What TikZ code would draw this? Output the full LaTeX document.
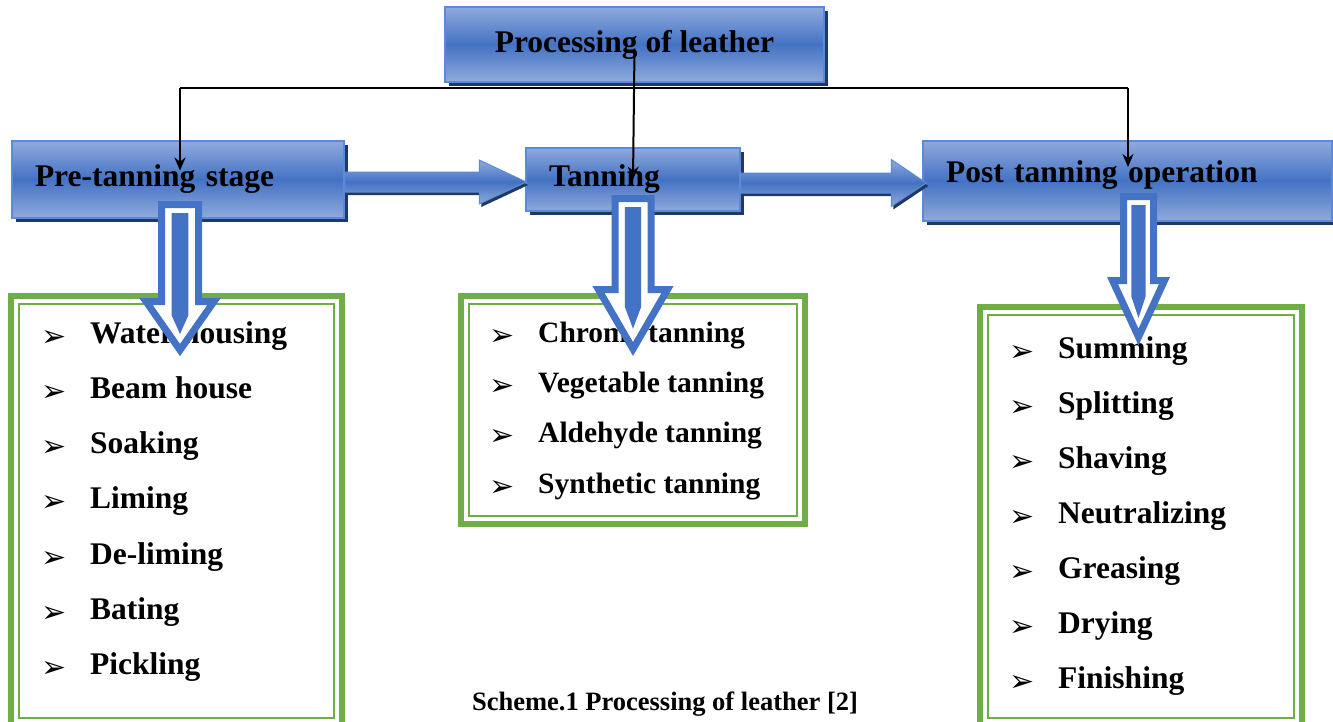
\documentclass[tikz,border=0pt]{standalone}
\usepackage{fontspec}
\setmainfont{Liberation Serif}
\newfontfamily\symfont{DejaVu Sans}
\usepackage{tikz}
\usetikzlibrary{calc, shadows, arrows.meta}

\definecolor{boxblue}{HTML}{4472C4}
\definecolor{boxlight}{HTML}{8FAADC}
\definecolor{boxedge}{HTML}{5B8BD8}
\definecolor{shadowblue}{HTML}{203864}
\definecolor{framegreen}{HTML}{70AD47}

\newcommand{\headfont}{\bfseries\fontsize{31.5}{36}\selectfont}
\newcommand{\listfont}{\bfseries\fontsize{31.5}{36}\selectfont}
\newcommand{\midfont}{\bfseries\fontsize{29.5}{34}\selectfont}
\newcommand{\capfont}{\bfseries\fontsize{26.5}{30}\selectfont}
\newcommand{\bulletfont}{\symfont\fontsize{30}{30}\selectfont}

% hollow down arrow: x, top, head base, tip, shaft half width, head half width
\newcommand{\hollowarrow}[6]{%
  \draw[hollow] ({#1-#5+3.5},{#2+3.5}) -- ({#1-#5+3.5},{#3+3.5}) -- ({#1-#6+5},{#3+3.5})
    -- ({#1},{#4-6}) -- ({#1+#6-5},{#3+3.5}) -- ({#1+#5-3.5},{#3+3.5}) -- ({#1+#5-3.5},{#2+3.5}) -- cycle;
  \fill[boxblue] ({#1-0.38*#5},{#2+12}) -- ({#1-0.38*#5},{#3+0.3*(#4-#3)}) -- ({#1},{#3+0.62*(#4-#3)})
    -- ({#1+0.38*#5},{#3+0.3*(#4-#3)}) -- ({#1+0.38*#5},{#2+12}) -- cycle;
}

\begin{document}
\begin{tikzpicture}[
    x=1pt, y=-1pt,
    stagebox/.style={draw=boxedge, line width=1.5pt, shading=axis, top color=boxlight,
        bottom color=boxlight, middle color=boxblue, inner sep=0pt, align=left, font=\headfont,
        drop shadow={shadow xshift=4pt, shadow yshift=-4pt, fill=shadowblue, opacity=1}},
    flowarrow/.style={draw=boxedge, line width=1pt, shading=axis, top color=boxlight,
        bottom color=boxlight, middle color=boxblue,
        drop shadow={shadow xshift=2pt, shadow yshift=-3pt, fill=shadowblue, opacity=1}},
    framebox/.style={draw=framegreen, fill=white, line width=6pt, inner sep=0pt,
        path picture={\draw[framegreen, line width=2pt]
            ([shift={(8pt,-8pt)}]path picture bounding box.north west) rectangle
            ([shift={(-8pt,8pt)}]path picture bounding box.south east);}},
    listitem/.style={inner sep=0pt, anchor=base west},
    hollow/.style={draw=boxblue, fill=white, line width=7pt, line join=miter},
    link/.style={draw=black, line width=2pt},
    tip/.style={-{Stealth[length=13pt, width=11pt]}}
]
\useasboundingbox (0,0) rectangle (1333,721);
\clip (0,0) rectangle (1333,721);

% --- stage boxes ---
\node[stagebox, minimum width=379pt, minimum height=75pt, align=center] (title) at (634.5,44.5) {Processing of leather};
\node[stagebox, minimum width=332pt, minimum height=77pt, text width=286pt] (pre) at (178,179.5) {Pre-tanning stage};
\node[stagebox, minimum width=214pt, minimum height=63pt, text width=168pt] (tan) at (633,179.5) {Tanning};
\node[stagebox, minimum width=409pt, minimum height=80pt, text width=363pt, text depth=19pt] (post) at (1127.5,181) {Post tanning operation};

% --- list frames ---
\node[framebox, minimum width=331pt, minimum height=430pt] (fpre) at (176.5,511) {};
\node[framebox, minimum width=344pt, minimum height=228pt] (ftan) at (633,410) {};
\node[framebox, minimum width=322pt, minimum height=419pt] (fpost) at (1141,516.5) {};

% --- list items ---
\foreach \txt [count=\i] in {Water housing, Beam house, Soaking, Liming, De-liming, Bating, Pickling} {
    \node[listitem, font=\bulletfont] (pb\i) at (41,{346+55.3*(\i-1)}) {➢};
    \node[listitem, font=\listfont] (p\i) at (90,{343+55.3*(\i-1)}) {\txt};
}
\foreach \txt [count=\i] in {Chrome tanning, Vegetable tanning, Aldehyde tanning, Synthetic tanning} {
    \node[listitem, font=\bulletfont] (tb\i) at (489,{345+50.4*(\i-1)}) {➢};
    \node[listitem, font=\midfont] (t\i) at (538,{342+50.4*(\i-1)}) {\txt};
}
\foreach \txt [count=\i] in {Summing, Splitting, Shaving, Neutralizing, Greasing, Drying, Finishing} {
    \node[listitem, font=\bulletfont] (ob\i) at (1009,{361+55*(\i-1)}) {➢};
    \node[listitem, font=\listfont] (o\i) at (1058,{358+55*(\i-1)}) {\txt};
}

\node[font=\capfont, anchor=base] (cap) at (665,710) {Scheme.1 Processing of leather [2]};

% --- flow arrows between stages ---
\path[flowarrow] let \p1=(pre.east), \p2=(tan.west) in
    (\x1,\y1+7.5pt) -- (\x2-46pt,\y1+7.5pt) -- (\x2-46pt,\y1+19.5pt) -- (\x2+1pt,\y1-2.5pt)
    -- (\x2-46pt,\y1-24.5pt) -- (\x2-46pt,\y1-12.5pt) -- (\x1,\y1-12.5pt) -- cycle;
\path[flowarrow] let \p1=(tan.east), \p2=(post.west) in
    (\x1,\y1+6.5pt) -- (\x2-31pt,\y1+6.5pt) -- (\x2-31pt,\y1+20pt) -- (\x2+4pt,\y1-3.5pt)
    -- (\x2-31pt,\y1-27pt) -- (\x2-31pt,\y1-13.5pt) -- (\x1,\y1-13.5pt) -- cycle;

% --- down arrows into the lists ---
\hollowarrow{180}{201}{298}{356}{22}{39}
\hollowarrow{633}{195}{286}{355}{21.5}{39.5}
\hollowarrow{1138.5}{193}{277}{343}{18.5}{31}

% --- connectors from the title ---
\coordinate (hl) at (180,88);
\coordinate (hr) at (1128,88);
\draw[link] (hl) -- (hr);
\draw[link, tip] (hl) -- ($(hl |- pre.center)+(0,-9)$);
\draw[link, tip] (hr) -- ($(hr |- post.center)+(0,-14)$);
\draw[link, tip] ([yshift=-4pt]title.center) -- (tan.center);

\end{tikzpicture}
\end{document}
